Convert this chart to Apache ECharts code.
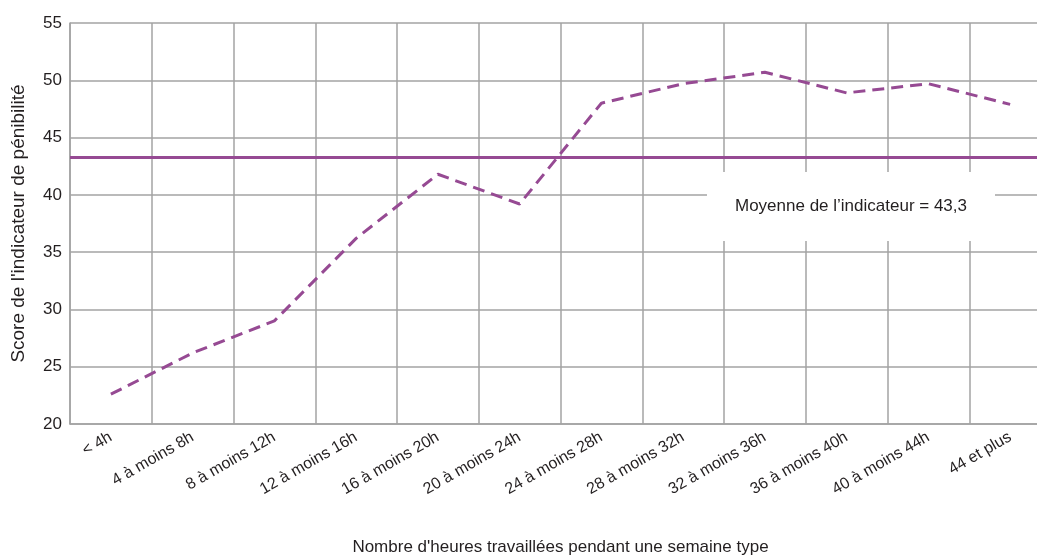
<!DOCTYPE html>
<html>
<head>
<meta charset="utf-8">
<script src="https://cdn.jsdelivr.net/npm/echarts@6/dist/echarts.min.js"></script>
<style>
  html, body { margin: 0; padding: 0; background: #fff; }
  #chart { width: 1037px; height: 556px; }
</style>
</head>
<body>
<div id="chart"></div>
<script>
const categories = ['< 4h', '4 à moins 8h', '8 à moins 12h', '12 à moins 16h', '16 à moins 20h', '20 à moins 24h',
  '24 à moins 28h', '28 à moins 32h', '32 à moins 36h', '36 à moins 40h', '40 à moins 44h', '44 et plus']
const scores = [22.6, 26.2, 29.0, 36.2, 41.8, 39.2, 48.0, 49.7, 50.7, 48.9, 49.7, 47.9]
const average = 43.3
const averageLabel = 'Moyenne de l’indicateur = 43,3'

const purple = '#964a93'
const gridGray = '#a3a3a3'
const textColor = '#231f20'
const font = '"Liberation Sans", Arial, sans-serif'

const chart = echarts.init(document.getElementById('chart'))
chart.setOption({
  animation: false,
  textStyle: { fontFamily: font, color: textColor },
  // plot runs past the right edge of the picture
  grid: { left: 70, width: 981, top: 23, height: 401, outerBoundsMode: 'none' },
  xAxis: {
    type: 'category',
    data: categories,
    boundaryGap: true,
    name: "Nombre d'heures travaillées pendant une semaine type",
    nameLocation: 'middle',
    nameGap: 115,
    nameTextStyle: { fontSize: 17, color: textColor, fontFamily: font },
    axisLine: { lineStyle: { color: gridGray, width: 1.5 } },
    axisTick: { show: false },
    axisLabel: { interval: 0, rotate: 30, margin: 12, fontSize: 16, color: textColor, fontFamily: font },
    splitLine: { show: true, interval: 0, lineStyle: { color: gridGray, width: 1.5 } },
  },
  yAxis: {
    type: 'value',
    min: 20,
    max: 55,
    interval: 5,
    name: "Score de l'indicateur de pénibilité",
    nameLocation: 'middle',
    nameGap: 42,
    nameTextStyle: { fontSize: 19, color: textColor, fontFamily: font },
    axisLine: { show: true, lineStyle: { color: gridGray, width: 1.5 } },
    axisTick: { show: false },
    axisLabel: { fontSize: 17, margin: 8, color: textColor, fontFamily: font },
    splitLine: { lineStyle: { color: gridGray, width: 1.5 } },
  },
  series: [
    {
      type: 'line',
      data: scores,
      symbol: 'none',
      lineStyle: { color: purple, width: 3, type: [12, 7] },
      markLine: {
        silent: true,
        symbol: 'none',
        lineStyle: { color: purple, width: 3, type: 'solid' },
        label: {
          position: 'insideEndBottom',
          distance: [56, 15],
          formatter: averageLabel,
          fontSize: 17,
          fontFamily: font,
          color: textColor,
          backgroundColor: '#fff',
          padding: [26, 28, 26, 28],
        },
        data: [{ yAxis: average }],
      },
    },
  ],
})
</script>
</body>
</html>
